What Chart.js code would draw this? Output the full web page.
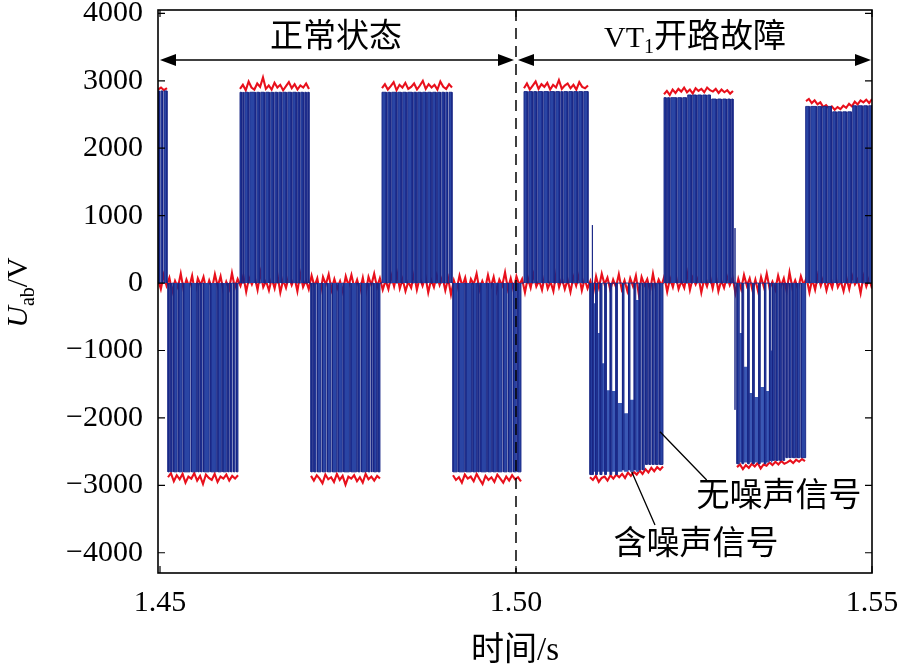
<!DOCTYPE html>
<html>
<head>
<meta charset="utf-8">
<script src="https://cdn.jsdelivr.net/npm/chart.js@4.4.1/dist/chart.umd.min.js"></script>
<style>
  html, body { margin: 0; padding: 0; background: #fff; }
</style>
</head>
<body>
<canvas id="chart" width="900" height="669"></canvas>
<script>
// axes
const xMin = 1.44972, xMax = 1.55;
const yMin = -4300, yMax = 4050;
const xTicks = [1.45, 1.50, 1.55];
const yTicks = [-4000, -3000, -2000, -1000, 0, 1000, 2000, 3000, 4000];
const faultTime = 1.50;

// 无噪声信号: PWM half-cycle blocks (s), levels (V), narrow gaps (ms after block start)
const blockStart = [1.44972, 1.451124, 1.461236, 1.471208, 1.481180, 1.491152, 1.501124, 1.510393, 1.520787, 1.531039, 1.540730];
const blockEnd   = [1.450983, 1.460955, 1.470927, 1.480899, 1.491011, 1.500702, 1.510112, 1.520646, 1.530478, 1.540590, 1.55];
const blockLevel = [[2850], [-2800], [2830], [-2800], [2830], [-2800], [2840],
                    [-2840, -2770, -2690], [2750, 2790, 2730], [-2680, -2630, -2590], [2620, 2540, 2630]];
const blockGaps = [
    [0.3, 0.75],
    [0.3, 0.7, 1.4, 2.1, 3.2, 4.1, 4.5, 4.9, 5.9, 6.9, 7.6, 8.3, 8.7, 9.1, 9.5],
    [0.3, 0.56, 1.26, 2.25, 2.81, 3.51, 4.21, 4.78, 5.34, 5.9, 6.6, 7.3, 8.0, 8.43, 8.99, 9.4],
    [0.3, 0.8, 1.5, 2.2, 2.9, 3.7, 4.5, 5.5, 6.5, 7.0, 7.9, 8.4, 8.7, 9.3],
    [0.7, 1.26, 2.1, 2.8, 3.5, 4.35, 4.9, 5.6, 6.3, 7.0, 7.7, 8.3, 8.85, 9.3],
    [0.7, 1.7, 2.7, 3.4, 3.8, 4.8, 5.5, 6.2, 7.0, 7.7, 8.4, 9.0],
    [0.56, 1.26, 1.83, 2.67, 3.51, 4.35, 5.06, 5.48, 6.18, 6.88, 7.58, 8.29],
    [7.25, 7.72, 8.19, 8.65, 9.13, 9.69],
    [0.4, 0.84, 1.83, 2.53, 3.23, 3.93, 4.63, 5.34, 6.04, 6.6, 7.44, 8.15, 8.85, 9.4],
    [5.38, 5.9, 6.37, 6.8, 7.22, 7.73, 8.32, 8.92],
    [0.56, 1.55, 2.25, 2.95, 3.65, 4.35, 5.06, 5.76, 6.46, 7.16, 8.0, 8.7]
];
const gapWidthMs = 0.2;

// wide gaps after the VT1 fault, partly filled from the bottom
const toothBlock = [7, 9];
const toothFrom  = [[0.49, 1.05, 1.69, 2.32, 3.06, 3.86, 4.78, 5.62, 6.43], [0.32, 0.94, 1.73, 2.44, 3.27, 4.07, 4.78]];
const toothTo    = [[0.81, 1.43, 2.09, 2.84, 3.64, 4.56, 5.41, 6.21, 6.91], [0.73, 1.52, 2.22, 3.06, 3.86, 4.56, 5.0]];
const toothDepth = [[-300, -740, -1190, -1590, -1600, -1780, -1930, -1730, -250], [-740, -1240, -1630, -1690, -1540, -1600, -1000]];
const toothFloor = [-2800, -2660];

// single switching spikes
const spikeTime = [1.51073, 1.53076];
const spikeTop = [860, 815];
const spikeBottom = [-2840, -1880];

// 含噪声信号: noise around 0 V over the whole window
const noiseZero = [
    60, -90, 120, -40, 80, -130, 30, -70, 140, -100, 50, -60, 110, -150, 70, -30, 90, -110, 40, -80, 130,
    -50, 100, -120, 20, -90, 150, -70, 60, -40, 110, -130, 80, -20, 90, -100, 160, -60, 30, -110, 70, -80,
    120, -140, 50, -70, 100, -30, 80, -120, 140, -60, 40, -90, 110, -50, 70, -160, 90, -20, 130, -100, 60,
    -80, 30, -130, 100, -40, 120, -70, 50, -110, 80, -150, 90, -30, 140, -60, 70, -100, 40, -90, 110, -50,
    150, -80, 60, -120, 20, -70, 130, -100, 80, -40, 100, -140, 50, -60, 120, -30, 90, -110, 70, -170, 40,
    -90, 110, -50, 80, -130, 60, -20, 140, -100, 30, -80, 120, -60, 90, -120, 50, -40, 160, -90, 70, -110,
    100, -30, 60, -140, 80, -70, 130, -50, 40, -100, 110, -80, 20, -120, 150, -60, 70, -90, 50, -130, 90,
    -40, 120, -110, 60, -80, 30, -150, 100, -70, 140, -20, 80, -100, 50, -60, 130, -90, 40, -120, 70, -50,
    110, -160, 90, -30, 60, -110, 140, -80, 50, -40, 100, -130, 70, -60, 120, -90, 30, -70, 150, -100, 80,
    -20, 90, -140, 60, -50, 110, -80, 130, -120, 40, -70, 100, -30, 80, -150, 60, -90, 120, -40, 70, -110,
    50, -130, 90, -60, 140, -80, 20, -100, 110, -50, 70, -120, 160, -70, 40, -90, 100, -30, 80, -140, 60,
    -100, 120, -40, 90, -110, 50, -70, 130, -60, 30, -120, 80, -90, 110, -20, 60, -150, 100, -50, 70, -80
];

// 含噪声信号: noisy top / bottom of each block
const noiseBand = [
    [2870, 2900, 2860, 2890],
    [-2880, -2820, -2940, -2850, -2910, -2830, -2960, -2870, -2900, -2820, -2930, -2860, -2980, -2840, -2890, -2920, -2830, -2950, -2870, -2900, -2840, -2930, -2860, -2900, -2850],
    [2880, 2940, 2860, 2990, 2900, 2870, 2960, 2910, 3050, 2880, 2930, 2870, 2970, 2900, 2940, 2860, 2920, 2980, 2890, 2950, 2870, 2930, 2900, 2960, 2880],
    [-2860, -2930, -2850, -2900, -2970, -2840, -2910, -2880, -2950, -2830, -2920, -2860, -2990, -2870, -2900, -2850, -2940, -2880, -2960, -2830, -2910, -2870, -2930, -2860, -2900],
    [2890, 2950, 2870, 2920, 2980, 2860, 2940, 2900, 2970, 2880, 2910, 2960, 2870, 2930, 3000, 2880, 2950, 2900, 2940, 2870, 2990, 2910, 2880, 2950, 2900],
    [-2850, -2920, -2880, -2960, -2840, -2900, -2870, -2940, -2830, -2910, -2980, -2860, -2920, -2880, -2950, -2840, -2900, -2960, -2870, -2930, -2850, -2910, -2880, -2940],
    [2890, 2960, 2870, 2930, 2990, 2880, 2950, 2910, 2970, 2870, 2940, 2900, 3010, 2880, 2930, 2960, 2890, 2940, 2870, 2980, 2910, 2890, 2930],
    [-2880, -2920, -2860, -2950, -2890, -2870, -2930, -2850, -2900, -2840, -2880, -2830, -2890, -2810, -2860, -2800, -2840, -2780, -2830, -2760, -2810, -2740, -2790, -2730, -2770, -2720],
    [2800, 2850, 2790, 2870, 2820, 2880, 2840, 2900, 2830, 2870, 2810, 2890, 2850, 2880, 2830, 2900, 2860, 2840, 2880, 2820, 2870, 2830, 2860, 2810, 2850],
    [-2730, -2690, -2760, -2700, -2740, -2680, -2720, -2670, -2750, -2690, -2710, -2660, -2700, -2650, -2690, -2640, -2680, -2660, -2630, -2670, -2620, -2650, -2610, -2640],
    [2700, 2730, 2670, 2710, 2650, 2680, 2610, 2640, 2590, 2620, 2570, 2610, 2580, 2630, 2600, 2660, 2620, 2690, 2650, 2710, 2680, 2720, 2670, 2730]
];

// annotations (time, value)
const headerText = ['正常状态', '开路故障'];
const headerX = [1.474719, 1.525140];
const headerY = 3637;
const arrowY = 3309;
const arrowSpans = [[1.45, 1.49972], [1.50028, 1.54986]];
const noteText = ['无噪声信号', '含噪声信号'];
const noteX = [1.536938, 1.525281];
const noteY = [-3172, -3884];
const leaderFrom = [[1.520225, -2204], [1.516250, -2797]];
const leaderTo = [[1.526784, -2920], [1.519522, -3588]];

const serif = "'Liberation Serif', 'Noto Sans CJK SC', serif";
const cjk = "'Liberation Serif', 'Noto Sans CJK SC', sans-serif";

function buildClean() {
    const pts = [{ x: xMin, y: 0 }];
    blockStart.forEach((s, i) => {
        const e = blockEnd[i];
        const cuts = blockGaps[i].map(ms => [s + (ms - gapWidthMs / 2) / 1000, s + (ms + gapWidthMs / 2) / 1000]);
        const ti = toothBlock.indexOf(i);
        if (ti >= 0) toothFrom[ti].forEach((f, k) => cuts.push([s + f / 1000, s + toothTo[ti][k] / 1000]));
        cuts.sort((a, b) => a[0] - b[0]);
        const n = cuts.length + 1;
        let a = s;
        for (let k = 0; k < n; k++) {
            const b = k < cuts.length ? cuts[k][0] : e;
            const lv = blockLevel[i][Math.floor(k * blockLevel[i].length / n)];
            pts.push({ x: a, y: 0 }, { x: a, y: lv }, { x: b, y: lv }, { x: b, y: 0 });
            if (k < cuts.length) a = cuts[k][1];
        }
    });
    pts.push({ x: xMax, y: 0 });
    spikeTime.forEach((t, k) => {
        const idx = pts.findIndex(p => p.x > t);
        const yb = pts[idx - 1].y;
        pts.splice(idx, 0, { x: t, y: yb }, { x: t, y: spikeTop[k] }, { x: t, y: spikeBottom[k] }, { x: t, y: yb });
    });
    return pts;
}

function buildTeeth(ti) {
    const s = blockStart[toothBlock[ti]], fl = toothFloor[ti];
    const pts = [];
    toothFrom[ti].forEach((f, k) => {
        const a = s + f / 1000, b = s + toothTo[ti][k] / 1000, d = toothDepth[ti][k];
        pts.push({ x: a, y: fl }, { x: a, y: d }, { x: b, y: d }, { x: b, y: fl });
    });
    return pts;
}

function buildBands() {
    const pts = [];
    noiseBand.forEach((arr, i) => {
        const s = blockStart[i], e = blockEnd[i];
        arr.forEach((v, k) => pts.push({ x: s + (e - s) * k / (arr.length - 1), y: v }));
        pts.push({ x: e, y: null });
    });
    return pts;
}

const zeroPts = noiseZero.map((v, k) => ({ x: xMin + (xMax - xMin) * k / (noiseZero.length - 1), y: v }));

const lineBase = { pointRadius: 0, tension: 0, spanGaps: false };

// frame, inward ticks, fault marker and labels
const decor = {
    id: 'decor',
    afterDatasetsDraw(chart) {
        const { ctx, chartArea: ca, scales: { x, y } } = chart;
        const px = v => x.getPixelForValue(v), py = v => y.getPixelForValue(v);
        ctx.save();
        ctx.strokeStyle = '#000';
        ctx.fillStyle = '#000';

        // fault instant
        ctx.lineWidth = 1.5;
        ctx.setLineDash([11, 7]);
        ctx.beginPath();
        ctx.moveTo(px(faultTime), ca.top);
        ctx.lineTo(px(faultTime), ca.bottom);
        ctx.stroke();
        ctx.setLineDash([]);

        // box and ticks
        ctx.lineWidth = 1.6;
        ctx.strokeRect(ca.left, ca.top, ca.width, ca.height);
        ctx.lineWidth = 1.2;
        ctx.beginPath();
        yTicks.forEach(v => {
            ctx.moveTo(ca.left, py(v)); ctx.lineTo(ca.left + 7, py(v));
            ctx.moveTo(ca.right, py(v)); ctx.lineTo(ca.right - 7, py(v));
        });
        xTicks.forEach(v => {
            ctx.moveTo(px(v), ca.bottom); ctx.lineTo(px(v), ca.bottom - 7);
            ctx.moveTo(px(v), ca.top); ctx.lineTo(px(v), ca.top + 7);
        });
        ctx.stroke();

        // double arrows
        const ay = py(arrowY);
        arrowSpans.forEach(([a, b]) => {
            const x1 = px(a), x2 = px(b);
            ctx.lineWidth = 1.5;
            ctx.beginPath(); ctx.moveTo(x1 + 4, ay); ctx.lineTo(x2 - 4, ay); ctx.stroke();
            ctx.beginPath();
            ctx.moveTo(x1, ay); ctx.lineTo(x1 + 16, ay - 6); ctx.lineTo(x1 + 16, ay + 6); ctx.closePath();
            ctx.moveTo(x2, ay); ctx.lineTo(x2 - 16, ay - 6); ctx.lineTo(x2 - 16, ay + 6); ctx.closePath();
            ctx.fill();
        });

        // header texts
        ctx.textBaseline = 'middle';
        ctx.textAlign = 'center';
        ctx.font = '33px ' + cjk;
        ctx.fillText(headerText[0], px(headerX[0]), py(headerY));
        // VT1 开路故障 with subscript
        ctx.textAlign = 'left';
        ctx.font = '30px ' + serif;
        const wVT = ctx.measureText('VT').width;
        ctx.font = '20px ' + serif;
        const w1 = ctx.measureText('1').width;
        ctx.font = '33px ' + cjk;
        const wC = ctx.measureText(headerText[1]).width;
        let hx = px(headerX[1]) - (wVT + w1 + wC) / 2;
        const hy = py(headerY);
        ctx.font = '30px ' + serif; ctx.fillText('VT', hx, hy + 1); hx += wVT;
        ctx.font = '20px ' + serif; ctx.fillText('1', hx, hy + 10); hx += w1;
        ctx.font = '33px ' + cjk; ctx.fillText(headerText[1], hx, hy);

        // notes with leader lines
        ctx.lineWidth = 1.3;
        ctx.beginPath();
        leaderFrom.forEach((f, k) => {
            ctx.moveTo(px(f[0]), py(f[1]));
            ctx.lineTo(px(leaderTo[k][0]), py(leaderTo[k][1]));
        });
        ctx.stroke();
        ctx.textAlign = 'center';
        ctx.font = '33px ' + cjk;
        noteText.forEach((t, k) => ctx.fillText(t, px(noteX[k]), py(noteY[k])));

        // x title
        ctx.font = '33px ' + cjk;
        ctx.fillText('时间/s', (ca.left + ca.right) / 2, ca.bottom + 78);

        // y title U_ab/V
        ctx.translate(19, (ca.top + ca.bottom) / 2 + 1);
        ctx.rotate(-Math.PI / 2);
        ctx.textAlign = 'left';
        ctx.font = 'italic 30px ' + serif;
        const wU = ctx.measureText('U').width;
        ctx.font = '20px ' + serif;
        const wab = ctx.measureText('ab').width;
        ctx.font = '30px ' + serif;
        const wV = ctx.measureText('/V').width;
        let tx = -(wU + wab + wV) / 2;
        ctx.font = 'italic 30px ' + serif; ctx.fillText('U', tx, 0); tx += wU;
        ctx.font = '20px ' + serif; ctx.fillText('ab', tx, 10); tx += wab;
        ctx.font = '30px ' + serif; ctx.fillText('/V', tx, 0);
        ctx.restore();
    }
};

new Chart(document.getElementById('chart'), {
    type: 'line',
    data: {
        datasets: [
            {
                ...lineBase, label: '无噪声信号', data: buildClean(),
                borderColor: '#172585', borderWidth: 0.9,
                backgroundColor: '#2a45a4', fill: 'origin'
            },
            {
                ...lineBase, label: 'teeth7', data: buildTeeth(0),
                borderWidth: 0, backgroundColor: '#3a58b4', fill: { value: toothFloor[0] }
            },
            {
                ...lineBase, label: 'teeth9', data: buildTeeth(1),
                borderWidth: 0, backgroundColor: '#3a58b4', fill: { value: toothFloor[1] }
            },
            {
                ...lineBase, label: '含噪声信号', data: buildBands(),
                borderColor: '#e8101c', borderWidth: 2.1, fill: false
            },
            {
                ...lineBase, label: '含噪声信号0', data: zeroPts,
                borderColor: '#e8101c', borderWidth: 2.1, fill: false
            }
        ]
    },
    options: {
        responsive: false,
        animation: false,
        devicePixelRatio: 1,
        layout: { padding: { left: 0, right: 28, top: 10, bottom: 0 } },
        plugins: { legend: { display: false }, tooltip: { enabled: false } },
        scales: {
            x: {
                type: 'linear', min: xMin, max: xMax,
                grid: { display: false, drawTicks: false }, border: { display: false },
                afterBuildTicks: s => { s.ticks = xTicks.map(v => ({ value: v })); },
                afterFit: s => { s.height = 96; s.paddingLeft = 0; s.paddingRight = 0; },
                ticks: {
                    padding: 12, color: '#000', maxRotation: 0, autoSkip: false,
                    font: { family: serif, size: 30 },
                    callback: v => v.toFixed(2)
                }
            },
            y: {
                type: 'linear', min: yMin, max: yMax,
                grid: { display: false, drawTicks: false }, border: { display: false },
                afterBuildTicks: s => { s.ticks = yTicks.map(v => ({ value: v })); },
                afterFit: s => { s.width = 158; s.paddingTop = 0; s.paddingBottom = 0; },
                ticks: {
                    padding: 15, color: '#000', autoSkip: false,
                    font: { family: serif, size: 30 },
                    callback: v => v < 0 ? '\u2212' + Math.abs(v) : String(v)
                }
            }
        }
    },
    plugins: [decor]
});
</script>
</body>
</html>
